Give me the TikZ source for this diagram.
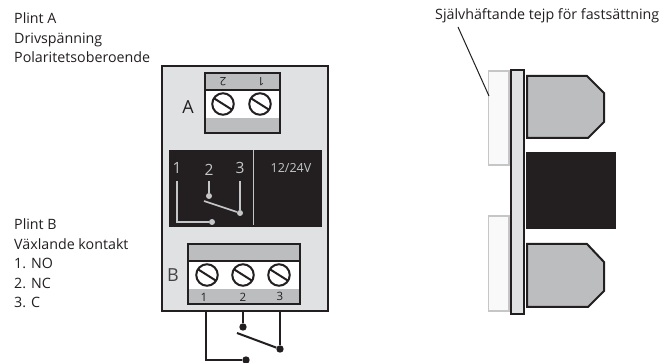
\documentclass[tikz,border=0pt]{standalone}
\usepackage{fontspec}
\setmainfont{Open Sans}
\definecolor{ink}{HTML}{231F20}
\definecolor{panelgray}{HTML}{DFE1E3}
\definecolor{midgray}{HTML}{BBBDBF}
\definecolor{labelgray}{HTML}{C4C6C8}
\definecolor{tapefill}{HTML}{F9F9F9}
\tikzset{x=1pt,y=-1pt,
  caption/.style={font=\fontsize{14.25}{19.6}\selectfont,text=ink,align=left,inner sep=0pt,anchor=north west},
  biglabel/.style={font=\fontsize{18}{18}\selectfont,text=ink,inner sep=0pt},
  bigwhite/.style={font=\fontsize{15.5}{15.5}\selectfont,text=labelgray,inner sep=0pt},
  tinylabel/.style={font=\fontsize{11.5}{11.5}\selectfont,text=ink,inner sep=0pt},
  heavy/.style={draw=ink,line width=2pt},
  wire/.style={draw=ink,line width=2pt},
  greywire/.style={draw=labelgray,line width=1.6pt},
  screw/.style={circle,draw=ink,line width=2pt,fill=white,minimum size=21.5pt,inner sep=0pt},
  blackdot/.style={circle,fill=ink,minimum size=7.4pt,inner sep=0pt},
  greydot/.style={circle,fill=labelgray,minimum size=6pt,inner sep=0pt},
  tape/.style={draw=labelgray,line width=1.7pt,fill=tapefill},
  module/.style={draw=ink,line width=2pt,fill=midgray,line join=miter}
}
\newcommand{\slot}[1]{\draw[ink,line width=2pt] ([shift={(-9.5,-6)}]#1.center) -- ([shift={(9.5,6)}]#1.center);}
\begin{document}
\begin{tikzpicture}
\useasboundingbox (0,0) rectangle (664,363);
% captions
\node[caption] (capa) at (14,12.4) {Plint A\\Drivspänning\\Polaritetsoberoende};
\node[caption] (capb) at (14,218.4) {Plint B\\Växlande kontakt\\1. NO\\2. NC\\3. C};
\node[caption] (captape) at (435,8.4) {Självhäftande tejp för fastsättning};
% panel
\draw[heavy,fill=panelgray] (162,66) rectangle (328,311);
% block A
\draw[heavy,fill=midgray] (205,73) rectangle (280,133);
\fill[white] (206,91) rectangle (279,118);
\draw[ink,line width=2pt] (205,90) -- (280,90);
\node[screw] (a2) at (223,104) {}; \slot{a2}
\node[screw] (a1) at (260,104) {}; \slot{a1}
\node[tinylabel,rotate=180] (l2) at (223,81.5) {2};
\node[tinylabel,rotate=180] (l1) at (261,81.5) {1};
\node[biglabel] (la) at (188,107) {A};
% black display
\fill[ink] (169,150) rectangle (322,227);
\draw[labelgray,line width=1pt] (253,150) -- (253,225);
\node[bigwhite] (d1) at (177,168) {1};
\node[bigwhite] (d2) at (209,170) {2};
\node[bigwhite] (d3) at (240,168) {3};
\node[font=\fontsize{12.5}{12.5}\selectfont,text=labelgray,inner sep=0pt] (dv) at (291,168) {12/24V};
\node[greydot] (gd1) at (212,222) {};
\node[greydot] (gd2) at (209,196) {};
\node[greydot] (gd3) at (240,213) {};
\coordinate (g1t) at (177,181);
\coordinate (g2t) at (209,181);
\coordinate (g3t) at (240,181);
\coordinate (gsw) at (204,201);
\draw[greywire] (g1t) |- (gd1);
\draw[greywire] (g2t) -- (gd2);
\draw[greywire] (g3t) -- (gd3);
\draw[greywire] (gsw) -- (gd3);
% block B
\draw[heavy,fill=midgray] (188,244) rectangle (300,304);
\fill[white] (189,261) rectangle (299,289);
\draw[ink,line width=2pt] (188,261) -- (300,261);
\node[screw] (b1) at (207,275) {}; \slot{b1}
\node[screw] (b2) at (243,275) {}; \slot{b2}
\node[screw] (b3) at (279,275) {}; \slot{b3}
\node[tinylabel] (n1) at (204,297.5) {1};
\node[tinylabel] (n2) at (243,297.5) {2};
\node[tinylabel] (n3) at (280,296.5) {3};
\node[biglabel,text=ink!85] (lb) at (173,275) {B};
% external wiring
\coordinate (w1) at (206,311);
\coordinate (w2) at (243,311);
\coordinate (w3) at (280,311);
\coordinate (sw) at (237,333);
\node[blackdot] (e1) at (246,360) {};
\node[blackdot] (e2) at (243,327) {};
\node[blackdot] (e3) at (280,349) {};
\draw[wire] (w1) |- (e1);
\draw[wire] (w2) -- (e2);
\draw[wire] (w3) -- (e3);
\draw[wire] (sw) -- (e3);
% side view
\draw[tape] (488.5,71) rectangle (509,165);
\draw[tape] (488.5,216) rectangle (509,311);
\draw[heavy,fill=panelgray] (511,70) rectangle (524,314);
\fill[ink] (526,152) rectangle (616,229);
\draw[module] (527,76) -- (587,76) -- (604,93) -- (604,122) -- (588,138) -- (527,138) -- cycle;
\draw[module] (527,244) -- (587,244) -- (604,262) -- (604,291) -- (588,307) -- (527,307) -- cycle;
% leader
\coordinate (lead1) at (458,27);
\coordinate (lead2) at (489,96);
\draw[ink,line width=1pt] (lead1) -- (lead2);
\end{tikzpicture}
\end{document}
